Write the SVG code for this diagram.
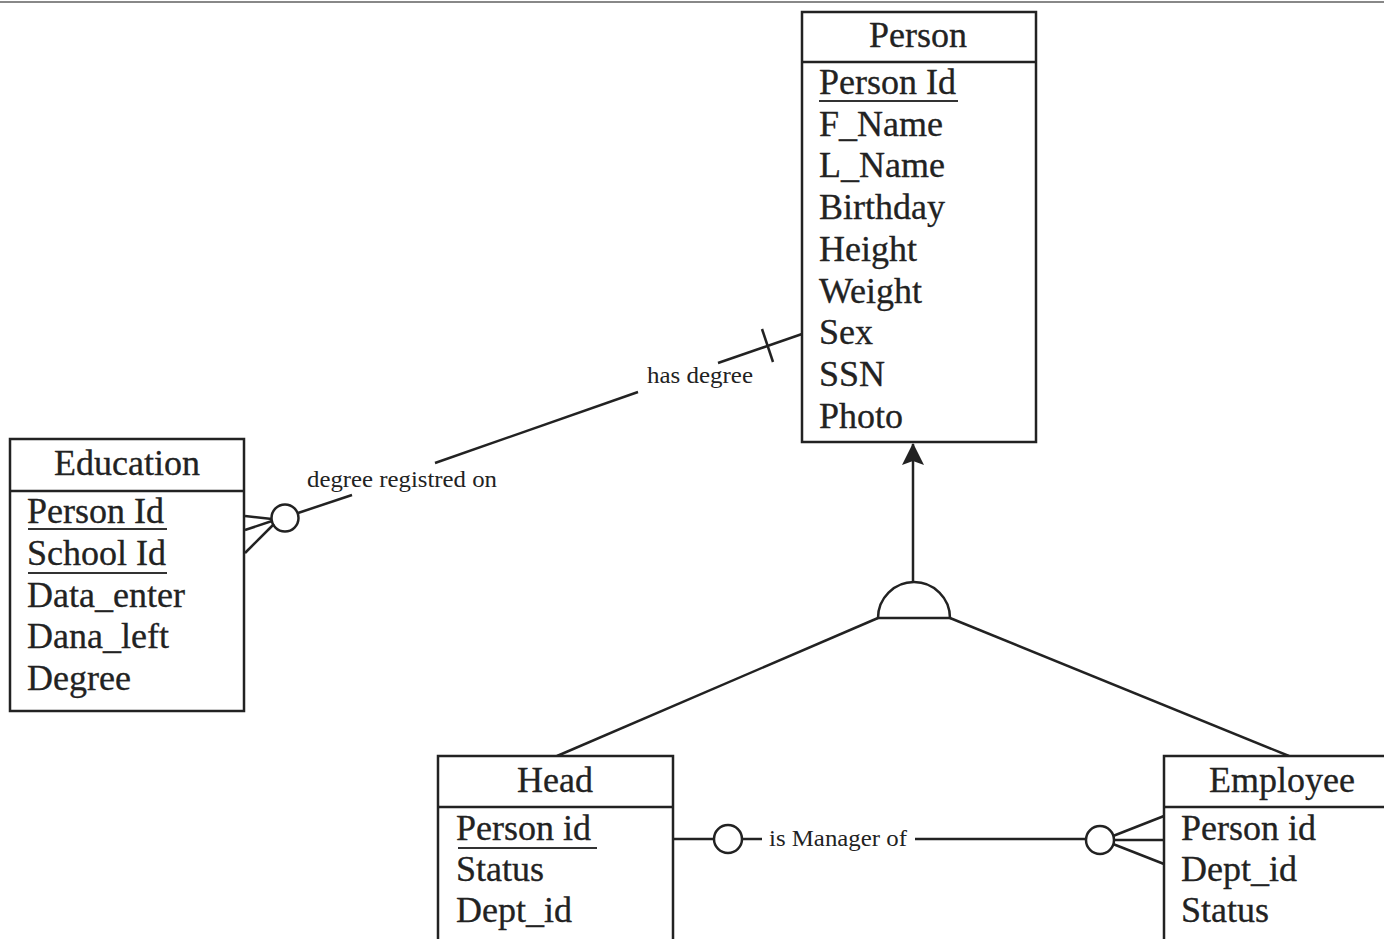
<svg xmlns="http://www.w3.org/2000/svg" width="1384" height="939" viewBox="0 0 1384 939">
<style>
.box{fill:#fff;stroke:#222;stroke-width:2.5}
.div{stroke:#222;stroke-width:2.5}
.t{font-family:"Liberation Serif","Times New Roman",serif;font-size:36px;fill:#222;stroke:#222;stroke-width:0.3}
.h{text-anchor:middle}
.lbl{font-family:"Liberation Serif","Times New Roman",serif;font-size:23px;fill:#222}
.ul{stroke:#333;stroke-width:2}
.ln{stroke:#222;stroke-width:2.5;fill:none}
</style>
<defs>
<marker id="arr" markerWidth="24" markerHeight="24" refX="11" refY="1" orient="0" markerUnits="userSpaceOnUse">
<path d="M11,0 L22,22 L11,18 L0,22 Z" fill="#222"/>
</marker>
</defs>
<rect width="1384" height="939" fill="#fff"/>
<line x1="0" y1="2" x2="1384" y2="2" stroke="#888" stroke-width="2"/>
<g id="connectors">
<line class="ln" x1="298" y1="513" x2="352" y2="495"/>
<line class="ln" x1="435" y1="463" x2="638" y2="392"/>
<line class="ln" x1="718" y1="363" x2="802" y2="334"/>
<line class="ln" x1="762" y1="329" x2="773" y2="362"/>
<circle class="ln" cx="285" cy="518" r="13.5" fill="#fff"/>
<line class="ln" x1="272" y1="519" x2="245" y2="516"/>
<line class="ln" x1="272" y1="521" x2="245" y2="530"/>
<line class="ln" x1="274" y1="524" x2="245" y2="553"/>
<text class="lbl" x="307" y="487" textLength="190" lengthAdjust="spacingAndGlyphs">degree registred on</text>
<text class="lbl" x="647" y="383" textLength="106" lengthAdjust="spacingAndGlyphs">has degree</text>
<line class="ln" x1="673" y1="839" x2="714" y2="839"/>
<circle class="ln" cx="728" cy="839" r="14" fill="#fff"/>
<line class="ln" x1="742" y1="839" x2="762" y2="839"/>
<line class="ln" x1="915" y1="839" x2="1086" y2="839"/>
<circle class="ln" cx="1100" cy="840" r="14" fill="#fff"/>
<line class="ln" x1="1113" y1="836" x2="1164" y2="816"/>
<line class="ln" x1="1114" y1="840" x2="1164" y2="840"/>
<line class="ln" x1="1113" y1="844" x2="1164" y2="864"/>
<text class="lbl" x="769" y="846" textLength="138" lengthAdjust="spacingAndGlyphs">is Manager of</text>
<line class="ln" x1="913" y1="582" x2="913" y2="444" marker-end="url(#arr)"/>
<path class="ln" d="M878,618 A36,36 0 0 1 950,618 Z" fill="#fff"/>
<line class="ln" x1="878" y1="618" x2="557" y2="756"/>
<line class="ln" x1="950" y1="618" x2="1289" y2="756"/>
</g>
<g id="person">
<rect class="box" x="802" y="12" width="234" height="430"/>
<line class="div" x1="802" y1="62" x2="1036" y2="62"/>
<text class="t h" x="918" y="47">Person</text>
<text class="t" x="819" y="94">Person Id</text>
<line class="ul" x1="819" y1="101" x2="958" y2="101"/>
<text class="t" x="819" y="136">F_Name</text>
<text class="t" x="819" y="177">L_Name</text>
<text class="t" x="819" y="219">Birthday</text>
<text class="t" x="819" y="261">Height</text>
<text class="t" x="819" y="303">Weight</text>
<text class="t" x="819" y="344">Sex</text>
<text class="t" x="819" y="386">SSN</text>
<text class="t" x="819" y="428">Photo</text>
</g>
<g id="education">
<rect class="box" x="10" y="439" width="234" height="272"/>
<line class="div" x1="10" y1="491" x2="244" y2="491"/>
<text class="t h" x="127" y="475">Education</text>
<text class="t" x="27" y="523">Person Id</text>
<line class="ul" x1="28" y1="529" x2="167" y2="529"/>
<text class="t" x="27" y="565">School Id</text>
<line class="ul" x1="28" y1="573" x2="167" y2="573"/>
<text class="t" x="27" y="607">Data_enter</text>
<text class="t" x="27" y="648">Dana_left</text>
<text class="t" x="27" y="690">Degree</text>
</g>
<g id="head">
<rect class="box" x="438" y="756" width="235" height="200"/>
<line class="div" x1="438" y1="807" x2="673" y2="807"/>
<text class="t h" x="555" y="792">Head</text>
<text class="t" x="456" y="840">Person id</text>
<line class="ul" x1="458" y1="848" x2="597" y2="848"/>
<text class="t" x="456" y="881">Status</text>
<text class="t" x="456" y="922">Dept_id</text>
</g>
<g id="employee">
<rect class="box" x="1164" y="756" width="240" height="200"/>
<line class="div" x1="1164" y1="807" x2="1384" y2="807"/>
<text class="t h" x="1282" y="792">Employee</text>
<text class="t" x="1181" y="840">Person id</text>
<text class="t" x="1181" y="881">Dept_id</text>
<text class="t" x="1181" y="922">Status</text>
</g>
</svg>
